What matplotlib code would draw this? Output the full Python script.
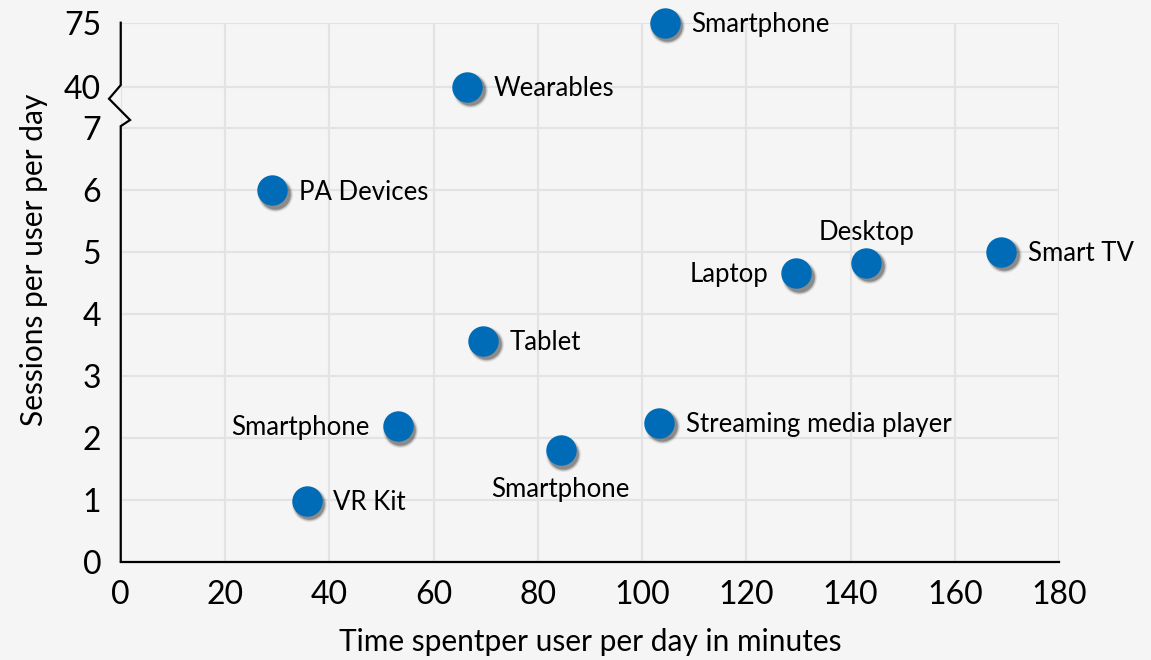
import numpy as np
import matplotlib
matplotlib.use("Agg")
import matplotlib.pyplot as plt
from matplotlib import transforms
from matplotlib.lines import Line2D
from matplotlib.ticker import NullLocator

# ---- data -------------------------------------------------------------
devices = ["Smartphone", "Wearables", "PA Devices", "Desktop", "Smart TV",
           "Laptop", "Tablet", "Smartphone", "Streaming media player",
           "Smartphone", "VR Kit"]
minutes = [104.4, 66.5, 29.1, 143.0, 168.9, 129.6, 69.5, 53.1, 103.3, 84.4, 35.7]
sessions = [75, 40, 6.0, 4.83, 5.01, 4.66, 3.57, 2.19, 2.24, 1.80, 0.98]
label_side = ["right", "right", "right", "above", "right",
              "left", "right", "left", "right", "below", "right"]

x_ticks = [0, 20, 40, 60, 80, 100, 120, 140, 160, 180]
y_ticks = [0, 1, 2, 3, 4, 5, 6, 7, 40, 75]

# ---- broken y scale: linear to 7, compressed above ----------------------
B1, B2, TOP = 7.0, 40.0, 75.0
G1, G2 = 0.672, 1.034          # axis length given to 7..40 and 40..75


def fwd(y):
    y = np.asarray(y, dtype=float)
    return np.where(y <= B1, y,
           np.where(y <= B2, B1 + (y - B1) * G1 / (B2 - B1),
                    B1 + G1 + (y - B2) * G2 / (TOP - B2)))


def inv(p):
    p = np.asarray(p, dtype=float)
    return np.where(p <= B1, p,
           np.where(p <= B1 + G1, B1 + (p - B1) * (B2 - B1) / G1,
                    B2 + (p - B1 - G1) * (TOP - B2) / G2))


BG = "#f5f5f5"
BLUE = "#006bb6"
GRID = "#e3e3e3"
plt.rcParams["font.family"] = ["Lato", "DejaVu Sans"]

fig = plt.figure(figsize=(11.51, 6.6), dpi=100, facecolor=BG)
ax = fig.add_axes([0.1049, 0.149, 0.8152, 0.8166], facecolor=BG)
ax.set_yscale("function", functions=(fwd, inv))
ax.set_xlim(0, 180)
ax.set_ylim(0, TOP)

ax.set_xticks(x_ticks)
ax.set_yticks(y_ticks)
ax.set_xticklabels([str(v) for v in x_ticks])
ax.set_yticklabels([str(v) for v in y_ticks])
ax.yaxis.set_minor_locator(NullLocator())
ax.xaxis.set_minor_locator(NullLocator())
ax.tick_params(axis="both", length=0, labelsize=23, colors="black")
ax.tick_params(axis="y", pad=14)
ax.tick_params(axis="x", pad=13)
ax.grid(True, color=GRID, linewidth=1.6, zorder=0)
ax.set_axisbelow(True)

for s in ["top", "right", "left"]:
    ax.spines[s].set_visible(False)
ax.spines["bottom"].set_linewidth(1.6)
ax.spines["bottom"].set_zorder(3)

# left axis line with a zigzag break between 7 and 40
f40 = float(fwd(B2) / fwd(TOP))
f7 = float(fwd(B1) / fwd(TOP))
span = f40 - f7
zig_dx = [0, 0, -11.7, 9.3, 0, 0]                       # pixel offsets
zig_y = [1.0, f40 + 0.003, f40 - 0.29 * span, f40 - 0.80 * span, f7 + 0.004, 0]
disp = []
for xo, ya in zip(zig_dx, zig_y):
    dx, dy = ax.transAxes.transform((0, ya))
    disp.append((dx + xo, dy))
fig_pts = fig.transFigure.inverted().transform(np.array(disp))
fig.add_artist(Line2D(fig_pts[:, 0], fig_pts[:, 1], color="black", linewidth=1.6,
                      transform=fig.transFigure, zorder=5, solid_joinstyle="miter"))

# ---- points with soft drop shadow ------------------------------------
size = 480
shadow_tr = transforms.offset_copy(ax.transData, fig=fig, x=2.5, y=-3.5, units="dots")
for grow, a in [(1.35, 0.06), (1.22, 0.09), (1.1, 0.14), (1.0, 0.22)]:
    ax.scatter(minutes, sessions, s=size * grow, color="black", alpha=a,
               linewidths=0, transform=shadow_tr, zorder=3, clip_on=False)
ax.scatter(minutes, sessions, s=size, color=BLUE, linewidths=0, zorder=4,
           clip_on=False)

# ---- point labels -----------------------------------------------------
label_fs = 18.5
cap_shift = -6.7
for name, xv, yv, side in zip(devices, minutes, sessions, label_side):
    if side == "right":
        off, ha, va = (19, cap_shift), "left", "baseline"
    elif side == "left":
        off, ha, va = (-20, cap_shift), "right", "baseline"
    elif side == "above":
        off, ha, va = (0, 16), "center", "baseline"
    else:
        off, ha, va = (0, -19), "center", "top"
    ax.annotate(name, (xv, yv), xytext=off, textcoords="offset points",
                ha=ha, va=va, fontsize=label_fs, color="black", zorder=6)

ax.set_xlabel("Time spentper user per day in minutes", fontsize=21.5, labelpad=13)
ax.set_ylabel("Sessions per user per day", fontsize=21.5)
ax.yaxis.set_label_coords(-0.078, 0.56)

fig.savefig("out.png", dpi=100, facecolor=BG)
